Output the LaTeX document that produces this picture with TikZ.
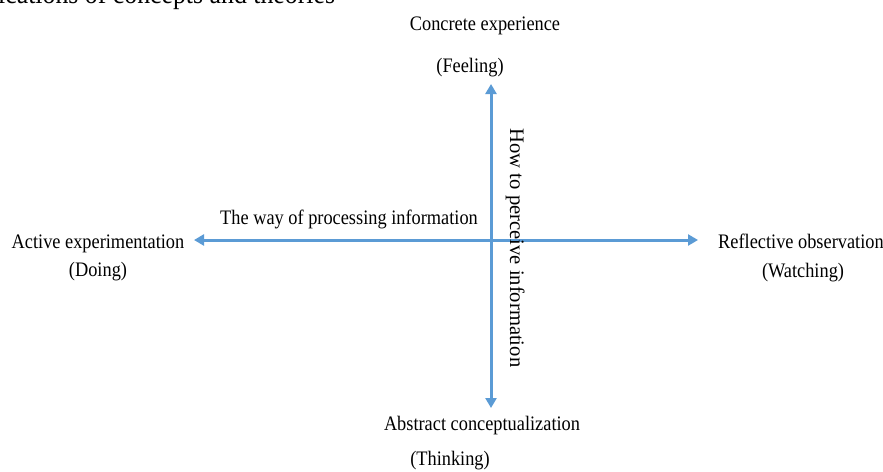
\documentclass[tikz,border=0pt]{standalone}
\usepackage{fontspec}
\setmainfont{Liberation Serif}[FakeStretch=0.89]
\newfontfamily\uprightserif{Liberation Serif}
\usetikzlibrary{arrows.meta}
\definecolor{axisblue}{RGB}{91,155,213}
\tikzset{
  axis/.style={draw=axisblue, line width=3pt,
    {Triangle[length=10pt,width=11pt]}-{Triangle[length=10pt,width=11pt]}},
  lbl/.style={font=\fontsize{20.6}{24}\selectfont, inner sep=0pt, anchor=base},
  vlbl/.style={font=\uprightserif\fontsize{20.6}{24}\selectfont, inner sep=0pt,
    anchor=base, rotate=-90},
  runon/.style={font=\fontsize{29}{34}\selectfont, inner sep=0pt, anchor=base west},
}
\begin{document}
\begin{tikzpicture}[x=1pt,y=-1pt]
\useasboundingbox (0,0) rectangle (883,471);

% running text cut off at the top edge
\node[runon] (runon) at (-2,3.5) {ications of concepts and theories};

% axis end points
\coordinate (top) at (491,84);
\coordinate (bottom) at (491,408);
\coordinate (left) at (194,240);
\coordinate (right) at (698,240);

\draw[axis] (top) -- (bottom);
\draw[axis] (left) -- (right);

% pole labels
\node[lbl] (ce) at (485,30) {Concrete experience};
\node[lbl] (feel) at (470,72) {(Feeling)};
\node[lbl] (ae) at (98,248) {Active experimentation};
\node[lbl] (doing) at (98,276) {(Doing)};
\node[lbl, anchor=base west] (ro) at (718,248) {Reflective observation};
\node[lbl] (watch) at (803,277) {(Watching)};
\node[lbl] (ac) at (482,430) {Abstract conceptualization};
\node[lbl] (think) at (450,465) {(Thinking)};

% axis labels
\node[lbl] (proc) at (349,224) {The way of processing information};
\node[vlbl] (perc) at (510,248) {How to perceive information};
\end{tikzpicture}
\end{document}
